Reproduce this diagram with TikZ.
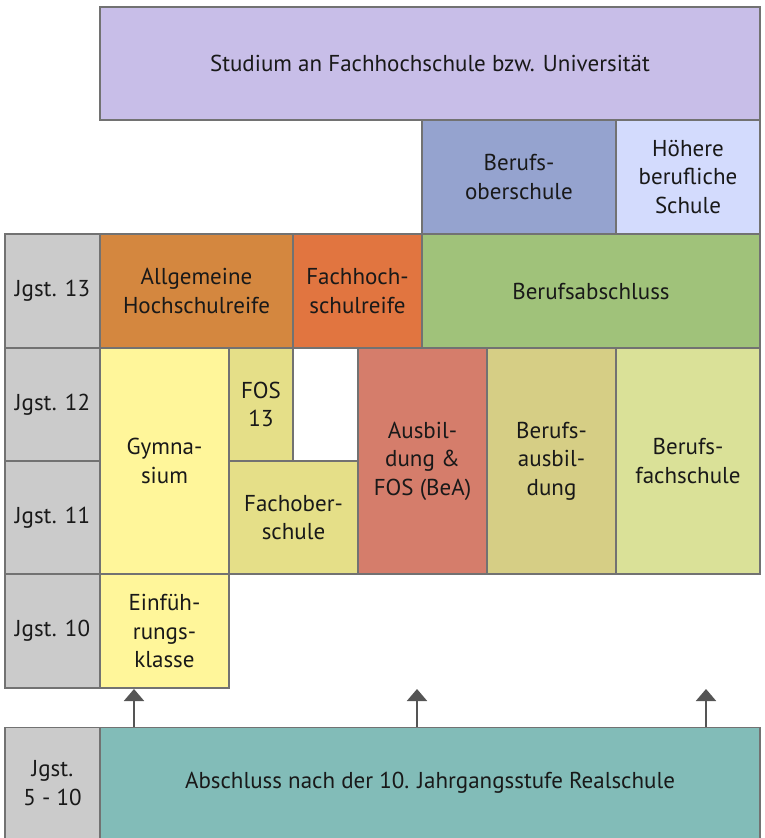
\documentclass[tikz,border=0pt]{standalone}
\usepackage{fontspec}
\setmainfont{PT Sans}
\usetikzlibrary{arrows.meta}
\definecolor{linegray}{HTML}{727272}
\definecolor{arrgray}{HTML}{555555}
\definecolor{cStud}{HTML}{C8BEE8}
\definecolor{cBOS}{HTML}{95A3CF}
\definecolor{cHBS}{HTML}{D3DBFD}
\definecolor{cJgst}{HTML}{CBCBCB}
\definecolor{cAHR}{HTML}{D4873F}
\definecolor{cFHR}{HTML}{E17540}
\definecolor{cBA}{HTML}{A0C27A}
\definecolor{cGym}{HTML}{FFF69A}
\definecolor{cFOS}{HTML}{E5DF88}
\definecolor{cBeA}{HTML}{D57D6B}
\definecolor{cBAusb}{HTML}{D6CE85}
\definecolor{cBFS}{HTML}{DAE198}
\definecolor{cAbs}{HTML}{82BCB8}
\tikzset{
  cell/.style={draw=linegray, line width=1.3pt, align=center, inner sep=0pt,
    font=\fontsize{23pt}{28.5pt}\selectfont, text=black!90},
  arr/.style={draw=arrgray, line width=2pt, -{Triangle[width=20pt,length=12pt]}}
}
\begin{document}
\begin{tikzpicture}[x=1pt,y=-1pt]
\useasboundingbox (0,0) rectangle (764,838);
\node[cell, fill=cStud, minimum width=660pt, minimum height=113pt] (stud) at (430,63.5) {Studium an Fachhochschule bzw. Universität};
\node[cell, fill=cBOS, minimum width=194pt, minimum height=114pt] (bos) at (519,177) {Berufs-\\oberschule};
\node[cell, fill=cHBS, minimum width=144pt, minimum height=114pt] (hbs) at (688,177) {Höhere\\berufliche\\Schule};
\node[cell, fill=cJgst, minimum width=95pt, minimum height=114pt] (j13) at (52.5,291) {Jgst. 13};
\node[cell, fill=cAHR, minimum width=193pt, minimum height=114pt] (ahr) at (196.5,291) {Allgemeine\\Hochschulreife};
\node[cell, fill=cFHR, minimum width=129pt, minimum height=114pt] (fhr) at (357.5,291) {Fachhoch-\\schulreife};
\node[cell, fill=cBA, minimum width=338pt, minimum height=114pt] (ba) at (591,291) {Berufsabschluss};
\node[cell, fill=cJgst, minimum width=95pt, minimum height=113pt] (j12) at (52.5,404.5) {Jgst. 12};
\node[cell, fill=cJgst, minimum width=95pt, minimum height=113pt] (j11) at (52.5,517.5) {Jgst. 11};
\node[cell, fill=cJgst, minimum width=95pt, minimum height=114pt] (j10) at (52.5,631) {Jgst. 10};
\node[cell, fill=cGym, minimum width=129pt, minimum height=226pt] (gym) at (164.5,461) {Gymna-\\sium};
\node[cell, fill=cFOS, minimum width=64pt, minimum height=113pt] (fos13) at (261,404.5) {FOS\\13};
\node[cell, fill=white, minimum width=65pt, minimum height=113pt] (empty) at (325.5,404.5) {};
\node[cell, fill=cFOS, minimum width=129pt, minimum height=113pt] (fos) at (293.5,517.5) {Fachober-\\schule};
\node[cell, fill=cBeA, minimum width=129pt, minimum height=226pt] (bea) at (422.5,461) {Ausbil-\\dung \&\\FOS (BeA)};
\node[cell, fill=cBAusb, minimum width=129pt, minimum height=226pt] (bausb) at (551.5,461) {Berufs-\\ausbil-\\dung};
\node[cell, fill=cBFS, minimum width=144pt, minimum height=226pt] (bfs) at (688,461) {Berufs-\\fachschule};
\node[cell, fill=cGym, minimum width=129pt, minimum height=114pt] (ek) at (164.5,631) {Einfüh-\\rungs-\\klasse};
\node[cell, fill=cJgst, minimum width=95pt, minimum height=111pt, anchor=north] (j510) at (52.5,727) {Jgst.\\5 - 10};
\node[cell, fill=cAbs, minimum width=660pt, minimum height=111pt, anchor=north] (abs) at (430,727) {Abschluss nach der 10. Jahrgangsstufe Realschule};
\coordinate (t1) at (134,689);
\coordinate (t2) at (417,689);
\coordinate (t3) at (706,689);
\draw[arr] (t1 |- abs.north) -- (t1);
\draw[arr] (t2 |- abs.north) -- (t2);
\draw[arr] (t3 |- abs.north) -- (t3);
\end{tikzpicture}
\end{document}
